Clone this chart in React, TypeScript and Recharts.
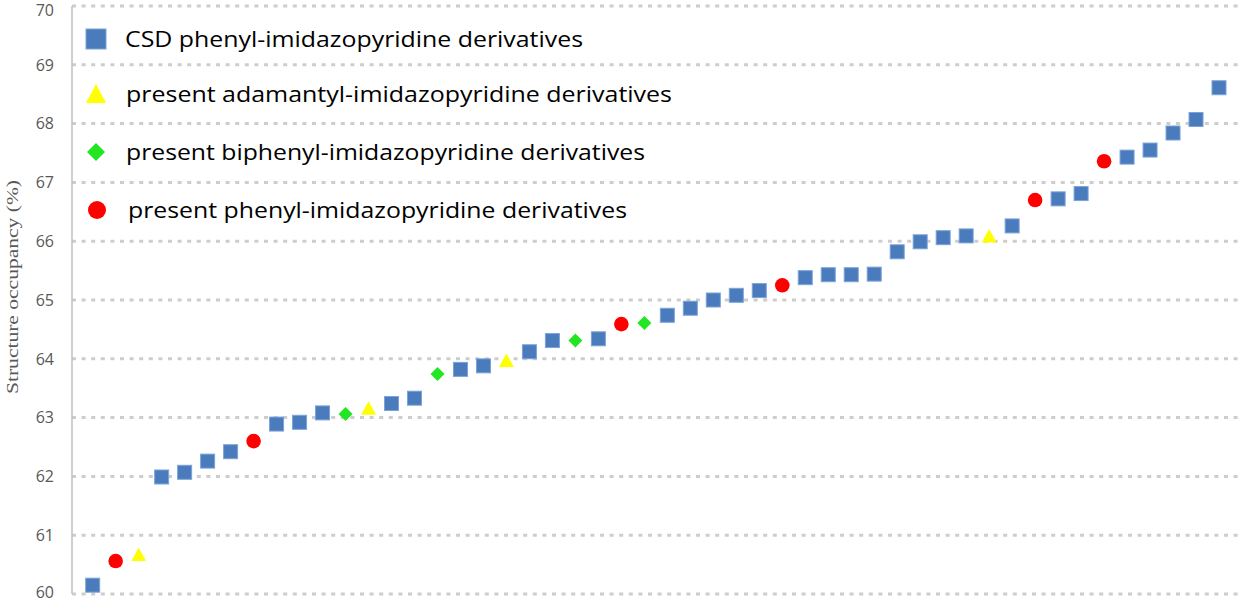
import React from 'react';
import { ScatterChart, Scatter, XAxis, YAxis, CartesianGrid, Legend } from 'recharts';

// ---- data ----
const positions = [
  1, 2, 3, 4, 5, 6, 7, 8, 9, 10,
  11, 12, 13, 14, 15, 16, 17, 18, 19, 20,
  21, 22, 23, 24, 25, 26, 27, 28, 29, 30,
  31, 32, 33, 34, 35, 36, 37, 38, 39, 40,
  41, 42, 43, 44, 45, 46, 47, 48, 49, 50,
];
const occupancy = [
  60.15, 60.56, 60.67, 61.99, 62.07, 62.26, 62.42, 62.6, 62.89, 62.92,
  63.08, 63.06, 63.16, 63.24, 63.33, 63.74, 63.82, 63.88, 63.97, 64.12,
  64.31, 64.31, 64.34, 64.59, 64.61, 64.74, 64.86, 65.0, 65.08, 65.16,
  65.25, 65.38, 65.43, 65.43, 65.44, 65.82, 65.99, 66.06, 66.09, 66.09,
  66.26, 66.7, 66.72, 66.81, 67.36, 67.43, 67.55, 67.84, 68.07, 68.61,
];
// S = CSD, T = adamantyl, D = biphenyl, R = present phenyl
const groups = [
  'S', 'R', 'T', 'S', 'S', 'S', 'S', 'R', 'S', 'S',
  'S', 'D', 'T', 'S', 'S', 'D', 'S', 'S', 'T', 'S',
  'S', 'D', 'S', 'R', 'D', 'S', 'S', 'S', 'S', 'S',
  'R', 'S', 'S', 'S', 'S', 'S', 'S', 'S', 'S', 'T',
  'S', 'R', 'S', 'S', 'R', 'S', 'S', 'S', 'S', 'S',
];
const seriesKeys = ['S', 'T', 'D', 'R'];
const seriesNames = [
  'CSD phenyl-imidazopyridine derivatives',
  'present adamantyl-imidazopyridine derivatives',
  'present biphenyl-imidazopyridine derivatives',
  'present phenyl-imidazopyridine derivatives',
];
const yTicks = [60, 61, 62, 63, 64, 65, 66, 67, 68, 69, 70];
const yTitle = 'Structure occupancy (%)';

const seriesData = seriesKeys.map((k) =>
  positions
    .map((x, i) => ({ x, y: occupancy[i], g: groups[i] }))
    .filter((d) => d.g === k)
);

// ---- styles ----
const BLUE = '#4A7BBC';
const BLUE_EDGE = '#7BA3D8';
const YELLOW = '#FFFF00';
const GREEN = '#22E622';
const RED = '#FF0000';

const SquareShape = (p: any) => (
  <rect x={p.cx - 7} y={p.cy - 7} width={14} height={14} fill={BLUE} stroke={BLUE_EDGE} strokeWidth={1} />
);
const TriangleShape = (p: any) => (
  <polygon
    points={`${p.cx},${p.cy - 7} ${p.cx + 7.5},${p.cy + 6.5} ${p.cx - 7.5},${p.cy + 6.5}`}
    fill={YELLOW}
  />
);
const DiamondShape = (p: any) => (
  <polygon
    points={`${p.cx},${p.cy - 7} ${p.cx + 7},${p.cy} ${p.cx},${p.cy + 7} ${p.cx - 7},${p.cy}`}
    fill={GREEN}
  />
);
const CircleShape = (p: any) => <circle cx={p.cx} cy={p.cy} r={7.3} fill={RED} />;

const shapes = [SquareShape, TriangleShape, DiamondShape, CircleShape];

const legendRows = [39, 94, 152, 210];
const legendTextX = [125, 126, 126, 128];
const legendTextLen = [458, 546, 519, 499];

const legendMarker = (i: number, cy: number) => {
  const cx = 96;
  if (i === 0) return <rect x={cx - 10} y={cy - 10} width={20} height={20} fill={BLUE} stroke={BLUE_EDGE} strokeWidth={1} />;
  if (i === 1)
    return <polygon points={`${cx},${cy - 10} ${cx + 10},${cy + 9} ${cx - 10},${cy + 9}`} fill={YELLOW} />;
  if (i === 2)
    return <polygon points={`${cx},${cy - 9} ${cx + 9},${cy} ${cx},${cy + 9} ${cx - 9},${cy}`} fill={GREEN} />;
  return <circle cx={cx + 1} cy={cy} r={9} fill={RED} />;
};

const renderLegend = () => (
  <svg width={700} height={240} style={{ display: 'block' }}>
    {seriesNames.map((name, i) => (
      <g key={name}>
        {legendMarker(i, legendRows[i])}
        <text
          x={legendTextX[i]}
          y={legendRows[i] + 7.5}
          fontFamily="'Open Sans', 'Noto Sans', sans-serif"
          fontSize={21}
          fill="#000"
          textLength={legendTextLen[i]}
          lengthAdjust="spacingAndGlyphs"
        >
          {name}
        </text>
      </g>
    ))}
  </svg>
);

const YTitle = () => (
  <text
    x={18}
    y={287}
    transform="rotate(-90 18 287)"
    textAnchor="middle"
    fontFamily="'Liberation Serif', 'DejaVu Serif', serif"
    fontSize={16.5}
    fill="#595959"
    textLength={214}
    lengthAdjust="spacingAndGlyphs"
  >
    {yTitle}
  </text>
);

const YTick = (p: any) => {
  const y = Math.min(Math.max(p.y, 10), 592);
  return (
    <text
      x={p.x}
      y={y}
      dy="0.36em"
      textAnchor="end"
      fill="#595959"
      fontSize={16}
      fontFamily="'Open Sans', 'Noto Sans', sans-serif"
    >
      {p.payload.value}
    </text>
  );
};

export default function App() {
  return (
    <div style={{ position: 'absolute', left: 0, top: 0, width: 1245, height: 602, background: '#fff' }}>
      <ScatterChart width={1245} height={602} margin={{ top: 6, right: 3, bottom: 8, left: 0 }}>
        <CartesianGrid vertical={false} stroke="#CDCDCD" strokeWidth={3} strokeDasharray="4 5.6" />
        <XAxis type="number" dataKey="x" domain={[0.1, 51]} hide />
        <YAxis
          type="number"
          dataKey="y"
          domain={[60, 70]}
          ticks={yTicks}
          width={72}
          interval={0}
          tickLine={false}
          tickSize={0}
          tickMargin={18}
          axisLine={{ stroke: '#BFBFBF', strokeWidth: 1.5 }}
          tick={<YTick />}
          label={{ content: () => <YTitle /> }}
        />
        <Legend
          layout="horizontal"
          verticalAlign="middle"
          align="center"
          wrapperStyle={{ top: 0, left: 0, width: 700, height: 240 }}
          content={renderLegend}
        />
        {seriesKeys.map((k, i) => (
          <Scatter
            key={k}
            name={seriesNames[i]}
            data={seriesData[i]}
            shape={shapes[i]}
            fill={[BLUE, YELLOW, GREEN, RED][i]}
            isAnimationActive={false}
          />
        ))}
      </ScatterChart>
    </div>
  );
}
